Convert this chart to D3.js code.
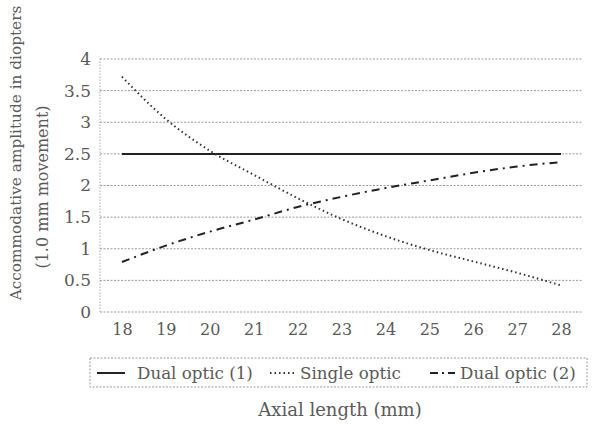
<!DOCTYPE html>
<html lang="en">
<head>
    <meta charset="UTF-8">
    <title>Accommodative amplitude</title>
    <script src="https://d3js.org/d3.v7.min.js"></script>
    <style>
        body { margin: 0; background: #fff; }
        text { font-family: "DejaVu Serif", serif; fill: #5a5a5a; }
    </style>
</head>
<body>
    <div class="canvas"></div>
    <script>
      // data
      const categories = ['18', '19', '20', '21', '22', '23', '24', '25', '26', '27', '28'];
      const dualOptic1 = [2.5, 2.5, 2.5, 2.5, 2.5, 2.5, 2.5, 2.5, 2.5, 2.5, 2.5];
      const singleOptic = [3.72, 3.05, 2.55, 2.17, 1.8, 1.47, 1.2, 0.98, 0.8, 0.62, 0.42];
      const dualOptic2 = [0.79, 1.05, 1.27, 1.46, 1.66, 1.82, 1.96, 2.08, 2.2, 2.3, 2.37];
      const yTicks = [0, 0.5, 1, 1.5, 2, 2.5, 3, 3.5, 4];
      const seriesNames = ['Dual optic (1)', 'Single optic', 'Dual optic (2)'];

      const width = 592;
      const height = 424;
      const [mt, mb, ml, mr] = [59, 112, 100, 9];

      const svg = d3.select('.canvas')
                      .append('svg')
                      .attr('width', width)
                      .attr('height', height);

      const x = d3.scalePoint()
                    .domain(categories)
                    .range([ml, width - mr])
                    .padding(0.5);

      const y = d3.scaleLinear()
                    .domain([0, 4])
                    .range([height - mb, mt]);

      // gridlines
      svg.append('g')
        .selectAll('line')
        .data(yTicks)
        .enter()
        .append('line')
        .attr('x1', ml)
        .attr('x2', width - mr)
        .attr('y1', d => y(d))
        .attr('y2', d => y(d))
        .attr('stroke', '#999')
        .attr('stroke-dasharray', '2,1.5');

      // y axis line (dotted, like the scan)
      svg.append('line')
        .attr('x1', ml).attr('x2', ml)
        .attr('y1', y(0)).attr('y2', y(4))
        .attr('stroke', '#aaa')
        .attr('stroke-dasharray', '1.5,1.5');

      const yAxis = d3.axisLeft(y)
                        .tickValues(yTicks)
                        .tickFormat(d => String(d))
                        .tickSize(0)
                        .tickPadding(9);
      svg.append('g')
        .attr('transform', `translate(${ml}, 0)`)
        .call(yAxis)
        .call(g => g.select('.domain').remove())
        .selectAll('text')
        .style('font-size', '17px')
        .style('font-family', '"DejaVu Serif", serif')
        .attr('fill', '#5a5a5a');

      const xAxis = d3.axisBottom(x).tickSize(0).tickPadding(12);
      svg.append('g')
        .attr('transform', `translate(0, ${y(0)})`)
        .call(xAxis)
        .call(g => g.select('.domain').remove())
        .selectAll('text')
        .style('font-size', '16px')
        .style('font-family', '"DejaVu Serif", serif')
        .attr('fill', '#5a5a5a');

      // series
      const styles = [
        { data: dualOptic1, dash: null, width: 2, color: '#222' },
        { data: singleOptic, dash: '1.5,3', width: 2, color: '#333' },
        { data: dualOptic2, dash: '8,5,2,5', width: 2, color: '#222' }
      ];

      const line = d3.line()
                      .x((d, i) => x(categories[i]))
                      .y(d => y(d))
                      .curve(d3.curveMonotoneX);

      svg.append('g')
        .selectAll('path')
        .data(styles)
        .enter()
        .append('path')
        .attr('fill', 'none')
        .attr('stroke', d => d.color)
        .attr('stroke-width', d => d.width)
        .attr('stroke-dasharray', d => d.dash)
        .attr('d', d => line(d.data));

      // y title
      svg.append('text')
        .attr('transform', 'translate(21, 153) rotate(-90)')
        .attr('text-anchor', 'middle')
        .style('font-size', '15.3px')
        .text('Accommodative amplitude in diopters');

      svg.append('text')
        .attr('transform', 'translate(48, 187) rotate(-90)')
        .attr('text-anchor', 'middle')
        .style('font-size', '16px')
        .text('(1.0 mm movement)');

      // legend
      const legend = svg.append('g');
      legend.append('rect')
        .attr('x', 90).attr('y', 358)
        .attr('width', 497).attr('height', 29)
        .attr('fill', 'none')
        .attr('stroke', '#999')
        .attr('stroke-dasharray', '2,1.5');

      const legendPos = [
        { x1: 97, x2: 125, tx: 137 },
        { x1: 270, x2: 295, tx: 300 },
        { x1: 430, x2: 455, tx: 460 }
      ];

      legendPos.forEach((p, i) => {
        legend.append('line')
          .attr('x1', p.x1).attr('x2', p.x2)
          .attr('y1', 373).attr('y2', 373)
          .attr('stroke', styles[i].color)
          .attr('stroke-width', 2)
          .attr('stroke-dasharray', i === 2 ? '8,4,2,4' : styles[i].dash);
        legend.append('text')
          .attr('x', p.tx)
          .attr('y', 379)
          .style('font-size', '16.7px')
          .text(seriesNames[i]);
      });

      // x title
      svg.append('text')
        .attr('x', 340)
        .attr('y', 416)
        .attr('text-anchor', 'middle')
        .style('font-size', '18px')
        .text('Axial length (mm)');
    </script>
</body>
</html>
